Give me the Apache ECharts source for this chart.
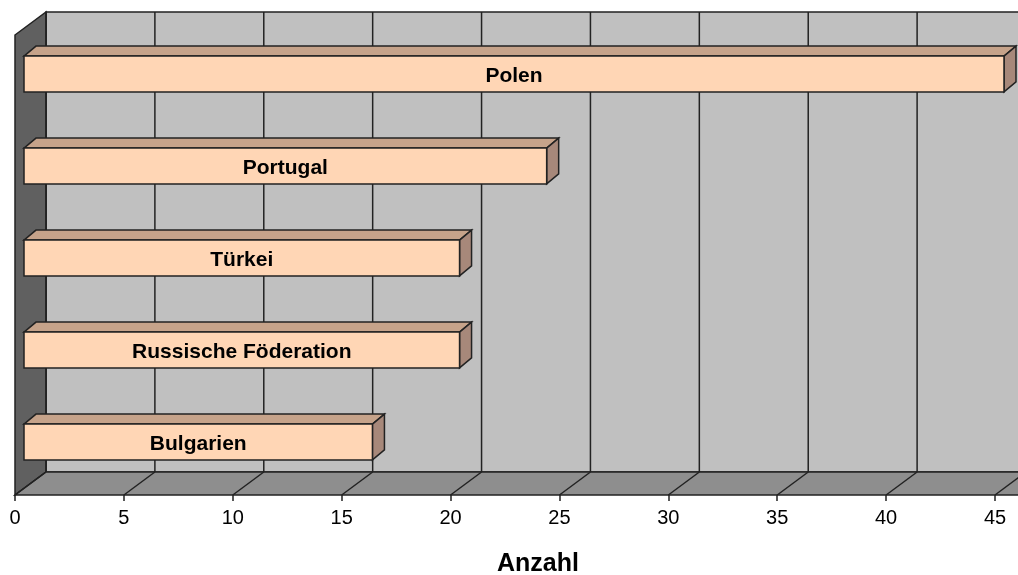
<!DOCTYPE html>
<html>
<head>
<meta charset="utf-8">
<script src="https://cdn.jsdelivr.net/npm/echarts@6/dist/echarts.min.js"></script>
<style>
  html, body { margin: 0; padding: 0; background: #fff; }
  #chart { width: 1018px; height: 575px; }
</style>
</head>
<body>
<div id="chart"></div>
<script>
// Daten (von unten nach oben)
var countries = ['Bulgarien', 'Russische Föderation', 'Türkei', 'Portugal', 'Polen'];
var counts = [16, 20, 20, 24, 45];
var xTicks = [0, 5, 10, 15, 20, 25, 30, 35, 40, 45];

var chart = echarts.init(document.getElementById('chart'));

// 3D-Versatz der Rückwand und der Balken
var WALL_DX = 31, WALL_DY = -23;
var BAR_DX = 9, BAR_DY = -7;
var DEPTH_X = 12, DEPTH_Y = -10;
var EDGE = '#222';
var FONT = '"Liberation Sans", Arial, sans-serif';

function renderWalls(params, api) {
  var cs = params.coordSys;
  var top = cs.y, bottom = cs.y + cs.height;
  var x0 = api.coord([xTicks[0], 0])[0];
  var xN = api.coord([xTicks[xTicks.length - 1], 0])[0];
  var children = [];
  // Rückwand
  children.push({
    type: 'rect',
    shape: { x: x0 + WALL_DX, y: top + WALL_DY, width: 1100, height: cs.height },
    style: { fill: '#c0c0c0', stroke: EDGE, lineWidth: 1.5 }
  });
  // Linke Seitenwand
  children.push({
    type: 'polygon',
    shape: { points: [[x0, top], [x0 + WALL_DX, top + WALL_DY], [x0 + WALL_DX, bottom + WALL_DY], [x0, bottom]] },
    style: { fill: '#606060', stroke: EDGE, lineWidth: 1.5 }
  });
  // Boden
  children.push({
    type: 'polygon',
    shape: { points: [[x0, bottom], [xN + 60, bottom], [xN + 60 + WALL_DX, bottom + WALL_DY], [x0 + WALL_DX, bottom + WALL_DY]] },
    style: { fill: '#8e8e8e', stroke: EDGE, lineWidth: 1.5 }
  });
  // Gitterlinien auf Rückwand und Boden
  xTicks.forEach(function (v) {
    var x = api.coord([v, 0])[0];
    children.push({
      type: 'line',
      shape: { x1: x + WALL_DX, y1: top + WALL_DY, x2: x + WALL_DX, y2: bottom + WALL_DY },
      style: { stroke: EDGE, lineWidth: 1.5 }
    });
    children.push({
      type: 'line',
      shape: { x1: x, y1: bottom, x2: x + WALL_DX, y2: bottom + WALL_DY },
      style: { stroke: EDGE, lineWidth: 1.5 }
    });
  });
  return { type: 'group', children: children };
}

function renderBar(params, api) {
  var val = api.value(0);
  var cat = api.value(1);
  var start = api.coord([0, cat]);
  var end = api.coord([val, cat]);
  var h = api.size([0, 1])[1] * 0.39;
  var x1 = start[0] + BAR_DX, x2 = end[0] + BAR_DX;
  var y1 = start[1] + BAR_DY - h / 2, y2 = y1 + h;
  return {
    type: 'group',
    children: [
      {
        type: 'polygon',
        shape: { points: [[x1, y1], [x1 + DEPTH_X, y1 + DEPTH_Y], [x2 + DEPTH_X, y1 + DEPTH_Y], [x2, y1]] },
        style: { fill: '#c6a38a', stroke: EDGE, lineWidth: 1.5 }
      },
      {
        type: 'polygon',
        shape: { points: [[x2, y1], [x2 + DEPTH_X, y1 + DEPTH_Y], [x2 + DEPTH_X, y2 + DEPTH_Y], [x2, y2]] },
        style: { fill: '#a7887a', stroke: EDGE, lineWidth: 1.5 }
      },
      {
        type: 'rect',
        shape: { x: x1, y: y1, width: x2 - x1, height: h },
        style: { fill: '#ffd6b5', stroke: EDGE, lineWidth: 1.5 }
      },
      {
        type: 'text',
        style: {
          x: (x1 + x2) / 2, y: (y1 + y2) / 2 + 2,
          text: countries[cat],
          align: 'center', verticalAlign: 'middle',
          fill: '#000', font: 'bold 21px ' + FONT
        }
      }
    ]
  };
}

var barData = counts.map(function (v, i) { return [v, i]; });

var option = {
  animation: false,
  backgroundColor: '#fff',
  grid: { left: 15, right: 23, top: 35, bottom: 80 },
  xAxis: {
    type: 'value', min: 0, max: 45, interval: 5,
    axisLine: { show: false },
    axisTick: { show: true, length: 6, lineStyle: { color: EDGE, width: 1.5 } },
    splitLine: { show: false },
    axisLabel: { color: '#000', fontSize: 20, margin: 13, fontFamily: FONT }
  },
  yAxis: {
    type: 'category', data: countries,
    axisLine: { show: false }, axisTick: { show: false }, axisLabel: { show: false }
  },
  graphic: [{
    type: 'text', x: 538, y: 552,
    style: { text: 'Anzahl', align: 'center', fill: '#000', font: 'bold 25px ' + FONT }
  }],
  series: [
    { type: 'custom', renderItem: renderWalls, data: [[0, 0]], silent: true, z: 1 },
    { type: 'custom', renderItem: renderBar, data: barData, encode: { x: 0, y: 1 }, z: 2 }
  ]
};

chart.setOption(option);
</script>
</body>
</html>
